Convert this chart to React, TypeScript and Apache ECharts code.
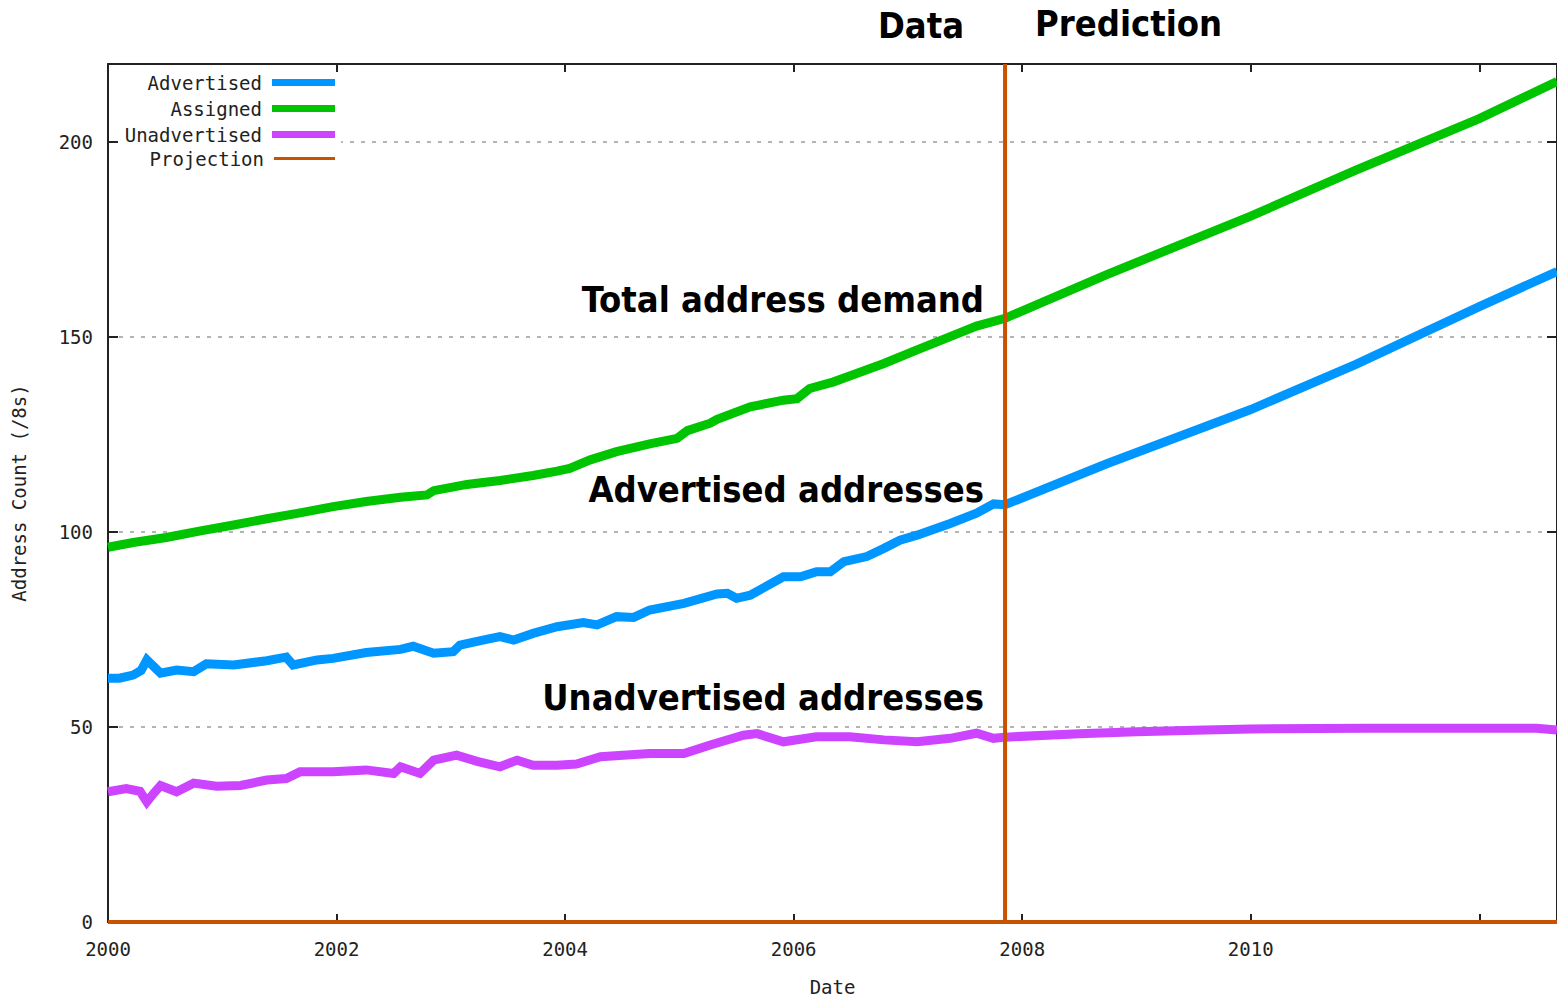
import React, { useEffect, useRef } from "react";
import * as echarts from "echarts";

// ---- axis ranges / ticks ----
const X_MIN = 2000;
const X_MAX = 2012.68;
const X_INTERVAL = 2;
const X_LABELED_MAX = 2010;
const Y_MIN = 0;
const Y_MAX = 220;
const Y_INTERVAL = 50;
const SPLIT_YEAR = 2007.85;

// ---- Assigned (total address demand) ----
const assignedYears = [
  2000.0, 2000.22, 2000.51, 2000.81, 2001.1, 2001.39, 2001.68, 2001.97, 2002.26, 2002.56,
  2002.79, 2002.85, 2003.14, 2003.43, 2003.72, 2003.93, 2004.04, 2004.22, 2004.45, 2004.74,
  2004.98, 2005.07, 2005.27, 2005.33, 2005.62, 2005.91, 2006.03, 2006.14, 2006.35, 2006.49,
  2006.79, 2007.08, 2007.37, 2007.6, 2007.85, 2008.74, 2010.0, 2010.92, 2012.0, 2012.68,
];
const assignedValues = [
  96.1, 97.3, 98.6, 100.3, 101.8, 103.4, 104.9, 106.5, 107.8, 108.9,
  109.5, 110.6, 112.2, 113.2, 114.5, 115.6, 116.3, 118.5, 120.6, 122.6,
  124.0, 126.0, 127.9, 128.9, 132.1, 133.8, 134.2, 136.8, 138.5, 140.0,
  143.2, 146.7, 150.1, 152.8, 154.8, 166.0, 181.0, 192.8, 206.0, 215.5,
];

// ---- Advertised ----
const advertisedYears = [
  2000.0, 2000.1, 2000.22, 2000.29, 2000.34, 2000.4, 2000.46, 2000.6, 2000.75, 2000.86,
  2001.1, 2001.39, 2001.56, 2001.62, 2001.83, 2001.97, 2002.26, 2002.56, 2002.67, 2002.85,
  2003.02, 2003.08, 2003.28, 2003.43, 2003.55, 2003.72, 2003.93, 2004.16, 2004.28, 2004.45,
  2004.6, 2004.74, 2005.04, 2005.33, 2005.42, 2005.5, 2005.62, 2005.91, 2006.06, 2006.2,
  2006.32, 2006.44, 2006.64, 2006.79, 2006.93, 2007.08, 2007.37, 2007.6, 2007.75, 2007.85,
  2008.74, 2010.0, 2010.92, 2012.0, 2012.68,
];
const advertisedValues = [
  62.5, 62.5, 63.3, 64.5, 67.2, 65.5, 63.8, 64.6, 64.2, 66.2,
  65.9, 67.0, 67.9, 65.9, 67.2, 67.6, 69.1, 69.9, 70.7, 68.9,
  69.3, 71.0, 72.3, 73.2, 72.3, 74.0, 75.7, 76.8, 76.2, 78.3,
  78.1, 80.0, 81.7, 84.1, 84.3, 83.0, 83.8, 88.5, 88.5, 89.8,
  89.8, 92.4, 93.7, 95.8, 97.9, 99.2, 102.2, 104.8, 107.2, 107.0,
  117.5, 131.4, 143.0, 157.8, 166.8,
];

// ---- Unadvertised ----
const unadvertisedYears = [
  2000.0, 2000.16, 2000.28, 2000.34, 2000.4, 2000.46, 2000.6, 2000.75, 2000.95, 2001.16,
  2001.39, 2001.56, 2001.68, 2001.97, 2002.26, 2002.5, 2002.56, 2002.73, 2002.85, 2003.05,
  2003.23, 2003.43, 2003.58, 2003.72, 2003.93, 2004.1, 2004.31, 2004.74, 2005.04, 2005.27,
  2005.56, 2005.68, 2005.91, 2006.2, 2006.49, 2006.79, 2007.08, 2007.37, 2007.6, 2007.75,
  2007.85, 2008.5, 2009.0, 2009.6, 2010.0, 2011.0, 2012.5, 2012.68,
];
const unadvertisedValues = [
  33.4, 34.2, 33.5, 30.8, 33.0, 35.0, 33.4, 35.6, 34.8, 35.0,
  36.4, 36.8, 38.5, 38.5, 39.0, 38.1, 39.8, 38.1, 41.5, 42.8,
  41.2, 39.8, 41.5, 40.2, 40.2, 40.5, 42.4, 43.2, 43.2, 45.4,
  47.9, 48.3, 46.2, 47.5, 47.5, 46.7, 46.2, 47.1, 48.4, 47.1,
  47.4, 48.3, 48.8, 49.2, 49.5, 49.7, 49.7, 49.2,
];

// ---- Projection marker (0 baseline with a spike at the data/prediction split) ----
const projectionYears = [X_MIN, SPLIT_YEAR, SPLIT_YEAR, SPLIT_YEAR, X_MAX];
const projectionValues = [0, 0, Y_MAX, 0, 0];

// ---- texts ----
const SERIES_NAMES = ["Advertised", "Assigned", "Unadvertised", "Projection"];
const COLORS = ["#0096ff", "#00c400", "#cc44ff", "#c85200"];
const X_AXIS_NAME = "Date";
const Y_AXIS_NAME = "Address Count (/8s)";
const ANNOTATIONS = [
  { text: "Total address demand", value: 159.5 },
  { text: "Advertised addresses", value: 111 },
  { text: "Unadvertised addresses", value: 57.5 },
];
const HEADER_LEFT = "Data";
const HEADER_RIGHT = "Prediction";

const MONO = '"DejaVu Sans Mono", monospace';
const BOLD = '"DejaVu Sans Condensed", "DejaVu Sans", sans-serif';

const zip = (xs: number[], ys: number[]) => xs.map((x, i) => [x, ys[i]]);

export default function App() {
  const ref = useRef<HTMLDivElement>(null);

  useEffect(() => {
    document.body.style.margin = "0";
    document.body.style.overflow = "hidden";
    const chart = echarts.init(ref.current!, null, { renderer: "svg" });

    const W = 1557;
    const gridLeft = 108;
    const gridTop = 64;
    const gridBottom = 79;

    const legendTops = [73, 99, 125, 149];
    const legends = SERIES_NAMES.map((name, i) => ({
      data: [name],
      orient: "vertical",
      align: "right",
      right: W - 335,
      top: legendTops[i],
      padding: 0,
      icon: "rect",
      itemWidth: i === 3 ? 61 : 63,
      itemHeight: i === 3 ? 3 : 7,
      selectedMode: false,
      textStyle: {
        fontFamily: MONO,
        fontSize: 19,
        color: "#222",
        padding: [0, 5, 0, 0],
      },
    }));

    const lineSeries = (name: string, data: number[][], color: string, width: number, z: number) => ({
      name,
      type: "line",
      data,
      showSymbol: false,
      symbol: "none",
      color,
      z,
      lineStyle: { color, width, cap: "butt", join: "miter" },
    });

    const plotW = W - gridLeft;
    const toPxX = (v: number) => gridLeft + ((v - X_MIN) / (X_MAX - X_MIN)) * plotW;

    const axisLine = { show: true, onZero: false, lineStyle: { color: "#222", width: 2 } };

    chart.setOption({
      animation: false,
      backgroundColor: "#ffffff",
      grid: { left: gridLeft, right: 0, top: gridTop, bottom: gridBottom, containLabel: false },
      legend: legends,
      xAxis: [
        {
          type: "value",
          position: "bottom",
          min: X_MIN,
          max: X_MAX,
          interval: X_INTERVAL,
          name: X_AXIS_NAME,
          nameLocation: "middle",
          nameGap: 55,
          nameTextStyle: { fontFamily: MONO, fontSize: 19, color: "#222" },
          axisLine,
          axisTick: { show: true, inside: true, length: 8, lineStyle: { color: "#222", width: 2 } },
          axisLabel: {
            fontFamily: MONO,
            fontSize: 19,
            color: "#222",
            margin: 17,
            showMaxLabel: false,
            formatter: (v: number) => (v <= X_LABELED_MAX ? String(v) : ""),
          },
          splitLine: { show: false },
        },
        {
          type: "value",
          position: "top",
          min: X_MIN,
          max: X_MAX,
          interval: X_INTERVAL,
          axisLine,
          axisTick: { show: true, inside: true, length: 8, lineStyle: { color: "#222", width: 2 } },
          axisLabel: { show: false },
          splitLine: { show: false },
        },
      ],
      yAxis: [
        {
          type: "value",
          position: "left",
          min: Y_MIN,
          max: Y_MAX,
          interval: Y_INTERVAL,
          name: Y_AXIS_NAME,
          nameLocation: "middle",
          nameGap: 80,
          nameTextStyle: { fontFamily: MONO, fontSize: 19, color: "#222" },
          axisLine,
          axisTick: { show: true, inside: true, length: 10, lineStyle: { color: "#222", width: 2 } },
          axisLabel: { fontFamily: MONO, fontSize: 19, color: "#222", margin: 15, showMaxLabel: false },
          splitLine: {
            show: true,
            showMinLine: false,
            showMaxLine: false,
            lineStyle: { color: "#b4b4b4", width: 2, type: [4, 7] },
          },
        },
        {
          type: "value",
          position: "right",
          min: Y_MIN,
          max: Y_MAX,
          interval: Y_INTERVAL,
          axisLine,
          axisTick: { show: true, inside: true, length: 10, lineStyle: { color: "#222", width: 2 } },
          axisLabel: { show: false },
          splitLine: { show: false },
        },
      ],
      graphic: [
        {
          type: "rect",
          z: 1,
          shape: { x: 119, y: 137, width: 222, height: 10 },
          style: { fill: "#ffffff" },
        },
        {
          type: "text",
          x: toPxX(SPLIT_YEAR) - 41,
          y: 25,
          style: {
            text: HEADER_LEFT,
            align: "right",
            verticalAlign: "middle",
            fontFamily: BOLD,
            fontWeight: "bold",
            fontSize: 36,
            fill: "#000",
          },
        },
        {
          type: "text",
          x: toPxX(SPLIT_YEAR) + 30,
          y: 23,
          style: {
            text: HEADER_RIGHT,
            align: "left",
            verticalAlign: "middle",
            fontFamily: BOLD,
            fontWeight: "bold",
            fontSize: 36,
            fill: "#000",
          },
        },
        ...ANNOTATIONS.map((a) => ({
          type: "text",
          x: toPxX(SPLIT_YEAR) - 21,
          y: gridTop + ((Y_MAX - a.value) / (Y_MAX - Y_MIN)) * (1001 - gridTop - gridBottom),
          style: {
            text: a.text,
            align: "right",
            verticalAlign: "middle",
            fontFamily: BOLD,
            fontWeight: "bold",
            fontSize: 36,
            fill: "#000",
          },
        })),
      ],
      series: [
        lineSeries(SERIES_NAMES[0], zip(advertisedYears, advertisedValues), COLORS[0], 9, 3),
        lineSeries(SERIES_NAMES[1], zip(assignedYears, assignedValues), COLORS[1], 9, 3),
        lineSeries(SERIES_NAMES[2], zip(unadvertisedYears, unadvertisedValues), COLORS[2], 9, 3),
        lineSeries(SERIES_NAMES[3], zip(projectionYears, projectionValues), COLORS[3], 4, 5),
      ],
    });

    return () => chart.dispose();
  }, []);

  return <div ref={ref} style={{ width: 1557, height: 1001 }} />;
}
